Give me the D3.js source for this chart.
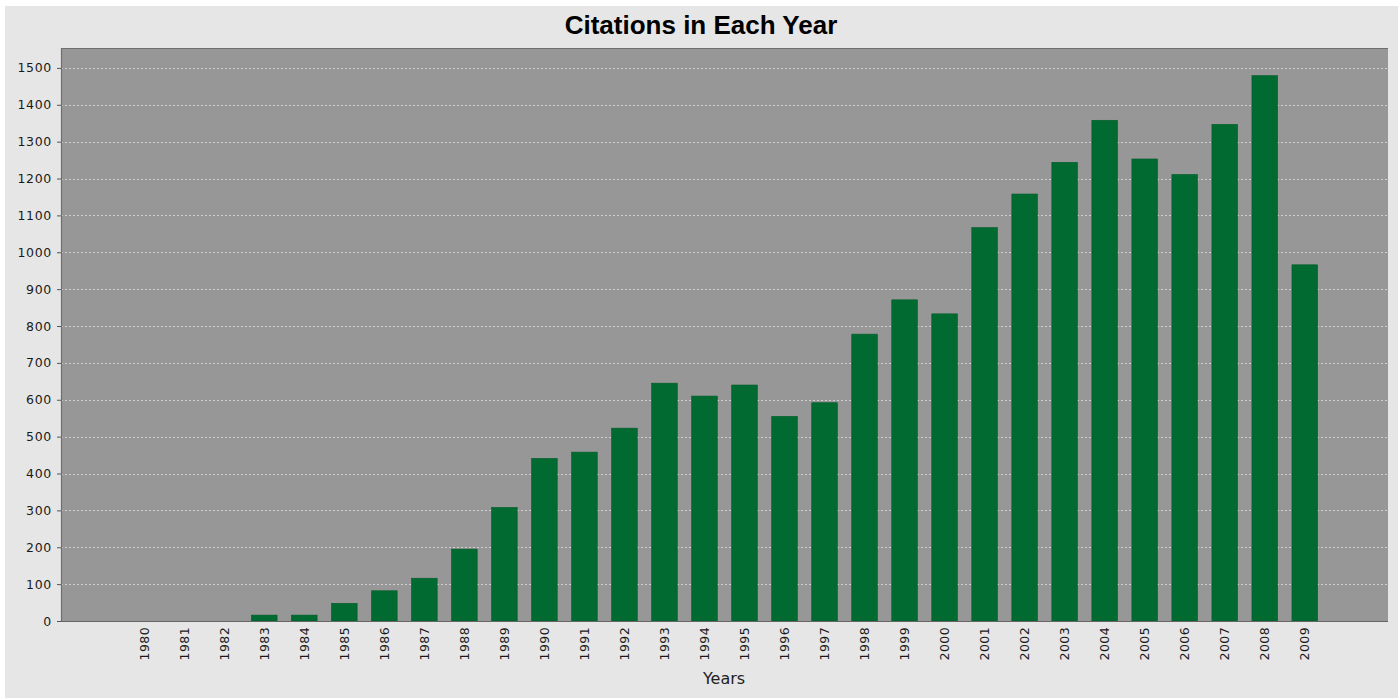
<!DOCTYPE html>
<html>
<head>
<meta charset="utf-8">
<script src="https://cdn.jsdelivr.net/npm/d3@7"></script>
<style>
    body { margin: 0; background: #ffffff; }
    svg { display: block; }
</style>
</head>
<body>
<svg id="chart" width="1400" height="698"></svg>
<script>
// Chart data
var years = ["1980", "1981", "1982", "1983", "1984", "1985", "1986", "1987", "1988", "1989",
             "1990", "1991", "1992", "1993", "1994", "1995", "1996", "1997", "1998", "1999",
             "2000", "2001", "2002", "2003", "2004", "2005", "2006", "2007", "2008", "2009"];
var citations = [0, 0, 0, 16, 16, 48, 82, 116, 195, 308,
                 441, 458, 523, 645, 610, 640, 555, 592, 778, 871,
                 833, 1067, 1158, 1244, 1358, 1253, 1211, 1347, 1479, 966];
var yTicks = [0, 100, 200, 300, 400, 500, 600, 700, 800, 900, 1000, 1100, 1200, 1300, 1400, 1500];

var titleText = "Citations in Each Year";
var xAxisTitle = "Years";

// Plot area
var plot = { left: 61, right: 1388, top: 48, bottom: 621 };

var svg = d3.select("#chart");

// Outer panel
svg.append("rect")
    .attr("x", 5)
    .attr("y", 6)
    .attr("width", 1393)
    .attr("height", 692)
    .attr("fill", "#e6e6e6");

// Scales
var x = d3.scaleBand()
    .domain(years)
    .range([plot.left, plot.right])
    .paddingInner(0.36)
    .paddingOuter(1.76);

var y = d3.scaleLinear()
    .domain([0, 1554])
    .range([plot.bottom, plot.top]);

// Plot background
svg.append("rect")
    .attr("x", plot.left)
    .attr("y", plot.top)
    .attr("width", plot.right - plot.left)
    .attr("height", plot.bottom - plot.top)
    .attr("fill", "#979797");

// Grid lines
svg.append("g")
    .selectAll("line")
    .data(yTicks.filter(function(d) { return d > 0; }))
    .enter()
    .append("line")
    .attr("x1", plot.left)
    .attr("x2", plot.right)
    .attr("y1", function(d) { return Math.round(y(d)) + 0.5; })
    .attr("y2", function(d) { return Math.round(y(d)) + 0.5; })
    .attr("stroke", "#cfcfcf")
    .attr("stroke-width", 1)
    .attr("stroke-dasharray", "2,2");

// Bars
svg.append("g")
    .selectAll("rect")
    .data(citations)
    .enter()
    .append("rect")
    .attr("x", function(d, i) { return x(years[i]); })
    .attr("y", function(d) { return y(d); })
    .attr("width", x.bandwidth())
    .attr("height", function(d) { return plot.bottom - y(d); })
    .attr("fill", "#006a31")
    .attr("stroke", "#005d2a")
    .attr("stroke-width", 0.6);

// Plot border (top and left)
svg.append("path")
    .attr("d", "M" + (plot.left + 0.5) + "," + plot.bottom + "V" + (plot.top + 0.5) + "H" + plot.right)
    .attr("fill", "none")
    .attr("stroke", "#6e6e6e")
    .attr("stroke-width", 1.2);

// Y axis
var yAxis = d3.axisLeft(y)
    .tickValues(yTicks)
    .tickSize(4)
    .tickPadding(5)
    .tickFormat(d3.format("d"));

var yAxisG = svg.append("g")
    .attr("transform", "translate(" + plot.left + ",0)")
    .call(yAxis);
yAxisG.select(".domain").remove();
yAxisG.selectAll(".tick line").attr("stroke", "#555555");
yAxisG.selectAll(".tick text")
    .attr("font-family", "DejaVu Sans")
    .attr("font-size", 12.5)
    .attr("letter-spacing", 0.7)
    .attr("fill", "#1a1a1a");

// X axis
var xAxis = d3.axisBottom(x)
    .tickSize(0)
    .tickPadding(0);

var xAxisG = svg.append("g")
    .attr("transform", "translate(0," + plot.bottom + ")")
    .call(xAxis);
xAxisG.select(".domain")
    .attr("stroke", "#666666")
    .attr("stroke-width", 1.2)
    .attr("d", "M" + plot.left + ",0.5H" + plot.right);
xAxisG.selectAll(".tick text")
    .attr("font-family", "DejaVu Sans")
    .attr("font-size", 12.5)
    .attr("letter-spacing", 0.4)
    .attr("fill", "#1a1a1a")
    .attr("text-anchor", "end")
    .attr("dy", null)
    .attr("y", 0)
    .attr("transform", "translate(4.5,6) rotate(-90)");

// Axis title
svg.append("text")
    .attr("x", 724)
    .attr("y", 684)
    .attr("text-anchor", "middle")
    .attr("font-family", "DejaVu Sans")
    .attr("font-size", 16)
    .attr("fill", "#222222")
    .text(xAxisTitle);

// Chart title
svg.append("text")
    .attr("x", 701)
    .attr("y", 34)
    .attr("text-anchor", "middle")
    .attr("font-family", "Liberation Sans")
    .attr("font-weight", "bold")
    .attr("font-size", 26)
    .attr("fill", "#000000")
    .text(titleText);
</script>
</body>
</html>
